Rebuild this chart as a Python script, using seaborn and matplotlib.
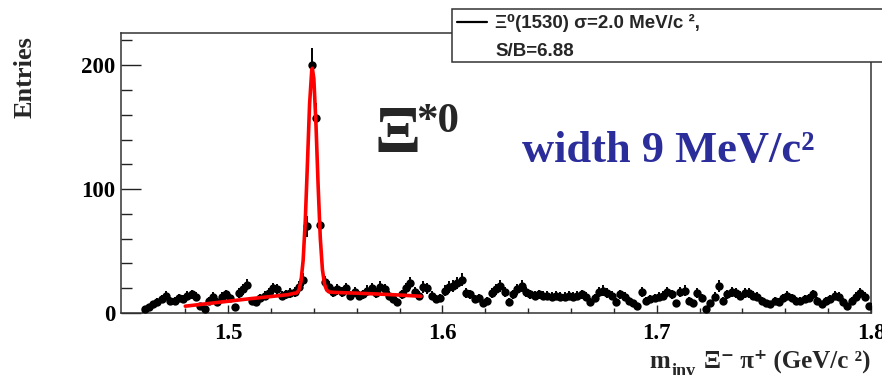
import numpy as np
import pandas as pd
import matplotlib
matplotlib.use("Agg")
import matplotlib.pyplot as plt
import seaborn as sns
from matplotlib.patches import Rectangle
from matplotlib.lines import Line2D
from matplotlib.ticker import MultipleLocator

# ---------------- data ----------------
bin_centers = [round(1.461 + 0.002 * i, 3) for i in range(170)]
counts = [
    3, 5, 7, 9, 11, 14, 10, 10, 12, 11,
    14, 15, 13, 6, 3, 10, 13, 9, 13, 15,
    12, 5, 16, 19, 23, 10, 9, 12, 14, 16,
    20, 19, 14, 15, 16, 17, 21, 27, 70, 200,
    157, 71, 25, 21, 17, 19, 17, 20, 14, 17,
    14, 15, 18, 20, 16, 21, 19, 14, 11, 9,
    15, 20, 24, 17, 14, 21, 20, 14, 11, 12,
    18, 21, 22, 24, 27, 16, 15, 11, 12, 8,
    10, 16, 19, 22, 17, 9, 15, 19, 22, 17,
    15, 14, 15, 14, 14, 13, 14, 13, 13, 14,
    13, 14, 15, 13, 9, 12, 17, 18, 16, 14,
    9, 15, 13, 10, 8, 6, 17, 10, 11, 12,
    13, 14, 17, 15, 8, 17, 18, 10, 8, 16,
    12, 3, 8, 13, 22, 10, 15, 17, 16, 14,
    16, 16, 14, 13, 10, 8, 7, 10, 9, 12,
    14, 12, 10, 10, 11, 12, 15, 10, 7, 10,
    11, 14, 13, 9, 6, 10, 13, 16, 13, 6,
]

fit_x = [1.480, 1.490, 1.500, 1.510, 1.520, 1.528, 1.531, 1.532, 1.533, 1.534,
         1.535, 1.536, 1.537, 1.538, 1.539, 1.5393, 1.540, 1.541, 1.542, 1.543,
         1.544, 1.545, 1.546, 1.547, 1.550, 1.560, 1.570, 1.580, 1.590]
fit_y = [5.5, 7.5, 9.5, 11.5, 13.3, 14.8, 16.0, 16.2, 18.5, 25.5,
         42.5, 74.5, 120.5, 168.5, 195.5, 197.5, 189.0, 151.5, 102.5, 60.5,
         35.0, 23.0, 18.5, 17.0, 16.6, 16.0, 15.3, 14.5, 13.5]

x_ticks = [1.5, 1.6, 1.7, 1.8]
x_tick_labels = ["1.5", "1.6", "1.7", "1.8"]
y_ticks = [0, 100, 200]
y_tick_labels = ["0", "100", "200"]

legend_line1 = "Ξ⁰(1530) σ=2.0 MeV/c ²,"
legend_line2 = "S/B=6.88"
width_text = "width 9 MeV/c²"

# ---------------- style ----------------
sns.set_theme(style="ticks")
serif = ["Liberation Serif", "DejaVu Serif"]
sans = ["Liberation Sans", "DejaVu Sans"]
plt.rcParams["font.family"] = serif
plt.rcParams["font.weight"] = "bold"

W, H = 882, 375
fig = plt.figure(figsize=(W / 100, H / 100), dpi=100)
fig.patch.set_facecolor("white")
ax = fig.add_axes([121 / W, 1 - 313 / H, 750 / W, 280 / H])
ax.set_facecolor("white")

df = pd.DataFrame({"mass": bin_centers, "entries": counts})
fit_df = pd.DataFrame({"mass": fit_x, "entries": fit_y})

ax.errorbar(df["mass"], df["entries"], yerr=np.sqrt(df["entries"]), fmt="none",
            ecolor="black", elinewidth=1.4, capsize=0, zorder=2)
sns.scatterplot(data=df, x="mass", y="entries", ax=ax, color="black", s=36,
                linewidth=0, zorder=3, legend=False)
sns.lineplot(data=fit_df, x="mass", y="entries", ax=ax, color="red", lw=2.6,
             sort=False, estimator=None, zorder=4)

ax.set_xlim(1.45, 1.8)
ax.set_ylim(0, 226)
ax.set_xticks(x_ticks)
ax.set_xticklabels(x_tick_labels)
ax.set_yticks(y_ticks)
ax.set_yticklabels(y_tick_labels)
ax.xaxis.set_minor_locator(MultipleLocator(0.02))
ax.yaxis.set_minor_locator(MultipleLocator(20))
ax.tick_params(axis="y", which="major", direction="in", length=14.4, width=1.0,
               pad=4, labelsize=16.5, colors="#222222", labelcolor="black")
ax.tick_params(axis="y", which="minor", direction="in", length=7.9, width=1.0, colors="#222222")
ax.tick_params(axis="x", which="major", direction="in", length=6.1, width=1.0,
               pad=7, labelsize=16.5, colors="#222222", labelcolor="black")
ax.tick_params(axis="x", which="minor", direction="in", length=3.3, width=1.0, colors="#222222")
for lab in ax.get_xticklabels() + ax.get_yticklabels():
    lab.set_fontweight("bold")
ax.set_xlabel("")
ax.set_ylabel("")
for sp in ax.spines.values():
    sp.set_visible(True)
    sp.set_linewidth(1.1)
    sp.set_color("#333333")

# y label
fig.text(25 / W, 1 - 77.5 / H, "Entries", rotation=90, ha="center", va="center",
         fontsize=19, fontweight="bold", family=serif)

# Xi*0 annotation
fig.text(374 / W, 1 - 152 / H, "Ξ", ha="left", va="baseline", fontsize=49,
         fontweight="bold", family=serif)
fig.text(416 / W, 1 - 132 / H, "*0", ha="left", va="baseline", fontsize=31,
         fontweight="bold", family=serif)

# width annotation
fig.text(522 / W, 1 - 162 / H, width_text, ha="left", va="baseline", fontsize=32,
         fontweight="bold", family=serif, color="#2b2d9b")

# legend box (figure level, covering top spine)
box = Rectangle((452 / W, 1 - 62 / H), (900 - 452) / W, 52.5 / H, transform=fig.transFigure,
                facecolor="white", edgecolor="#333333", linewidth=1.1, zorder=10)
fig.add_artist(box)
fig.add_artist(Line2D([457 / W, 487 / W], [1 - 21.7 / H, 1 - 21.7 / H], transform=fig.transFigure,
                      color="black", lw=1.6, zorder=11))
fig.text(495 / W, 1 - 28 / H, legend_line1, ha="left", va="baseline", fontsize=13.5,
         fontweight="bold", family=sans, zorder=12)
fig.text(495 / W, 1 - 56 / H, legend_line2, ha="left", va="baseline", fontsize=13.5,
         fontweight="bold", family=sans, zorder=12)

# x label built from pieces (main text, subscript, m)
fig.canvas.draw()
r = fig.canvas.get_renderer()
t3 = fig.text(870 / W, 1 - 368 / H, "Ξ⁻ π⁺ (GeV/c ²)", ha="right", va="baseline",
              fontsize=18, fontweight="bold", family=serif)
bb3 = t3.get_window_extent(r)
t2 = fig.text((bb3.x0 - 8) / W, 1 - 376 / H, "inv", ha="right", va="baseline",
              fontsize=13, fontweight="bold", family=serif)
bb2 = t2.get_window_extent(r)
fig.text((bb2.x0 - 1) / W, 1 - 368 / H, "m", ha="right", va="baseline",
         fontsize=18, fontweight="bold", family=serif)

fig.savefig("out.png", dpi=100, facecolor="white")
